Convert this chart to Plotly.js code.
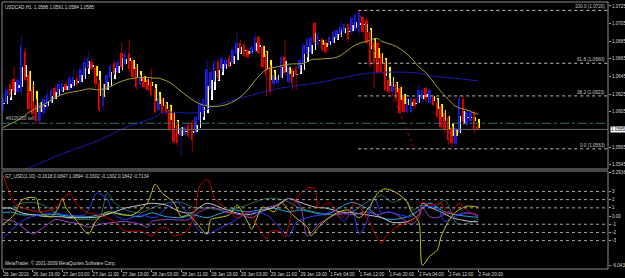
<!DOCTYPE html>
<html><head><meta charset="utf-8">
<script src="https://cdn.plot.ly/plotly-3.0.1.min.js"></script>
<style>html,body{margin:0;padding:0;background:#000;}#chart{width:625px;height:278px;}</style>
</head><body><div id="chart"></div>
<script>
const timeLabels=['26 Jan 2010','26 Jan 19:00','27 Jan 03:00','27 Jan 11:00','27 Jan 19:00','28 Jan 03:00','28 Jan 11:00','28 Jan 19:00','29 Jan 03:00','29 Jan 11:00','29 Jan 19:00','1 Feb 04:00','1 Feb 12:00','1 Feb 20:00','2 Feb 04:00','2 Feb 12:00','2 Feb 20:00'];
const timeTickIdx=[0,8,16,24,32,40,48,56,64,72,80,88,96,104,112,120,128];

const open=[1.0607,1.0616,1.0636,1.0642,1.0628,1.0628,1.0673,1.0647,1.0630,1.0613,
1.0594,1.0604,1.0610,1.0616,1.0632,1.0624,1.0628,1.0637,1.0630,1.0634,
1.0643,1.0639,1.0646,1.0656,1.0662,1.0655,1.0638,1.0611,1.0630,1.0643,
1.0660,1.0650,1.0672,1.0659,1.0672,1.0664,1.0656,1.0636,1.0644,1.0641,
1.0639,1.0630,1.0607,1.0619,1.0613,1.0607,1.0602,1.0590,1.0577,1.0579,
1.0590,1.0593,1.0581,1.0596,1.0602,1.0611,1.0630,1.0641,1.0662,1.0653,
1.0655,1.0666,1.0662,1.0670,1.0683,1.0681,1.0675,1.0670,1.0675,1.0690,
1.0679,1.0670,1.0656,1.0636,1.0638,1.0644,1.0667,1.0639,1.0653,1.0655,
1.0653,1.0660,1.0670,1.0673,1.0706,1.0681,1.0687,1.0684,1.0681,1.0684,
1.0689,1.0692,1.0696,1.0704,1.0696,1.0698,1.0695,1.0713,1.0709,1.0695,
1.0683,1.0683,1.0670,1.0660,1.0641,1.0628,1.0636,1.0632,1.0622,1.0605,
1.0605,1.0619,1.0615,1.0619,1.0632,1.0615,1.0622,1.0616,1.0611,1.0604,
1.0598,1.0587,1.0568,1.0581,1.0619,1.0590,1.0594,1.0605,1.0588];
const high=[1.0624,1.0634,1.0641,1.0656,1.0647,1.0691,1.0677,1.0653,1.0636,1.0619,
1.0621,1.0624,1.0630,1.0633,1.0636,1.0641,1.0641,1.0640,1.0647,1.0653,
1.0647,1.0658,1.0666,1.0675,1.0666,1.0658,1.0641,1.0636,1.0650,1.0660,
1.0664,1.0666,1.0684,1.0675,1.0687,1.0666,1.0659,1.0647,1.0648,1.0643,
1.0654,1.0632,1.0624,1.0622,1.0615,1.0611,1.0604,1.0594,1.0590,1.0591,
1.0593,1.0596,1.0602,1.0619,1.0622,1.0664,1.0655,1.0664,1.0664,1.0670,
1.0667,1.0670,1.0679,1.0695,1.0687,1.0683,1.0677,1.0681,1.0695,1.0692,
1.0681,1.0673,1.0658,1.0649,1.0647,1.0670,1.0687,1.0658,1.0655,1.0657,
1.0666,1.0683,1.0690,1.0692,1.0707,1.0695,1.0689,1.0687,1.0692,1.0698,
1.0700,1.0709,1.0706,1.0706,1.0715,1.0718,1.0720,1.0715,1.0711,1.0698,
1.0687,1.0685,1.0672,1.0664,1.0643,1.0641,1.0638,1.0634,1.0624,1.0623,
1.0621,1.0621,1.0636,1.0632,1.0633,1.0632,1.0624,1.0619,1.0613,1.0606,
1.0601,1.0589,1.0589,1.0624,1.0623,1.0607,1.0607,1.0607,1.0591];
const low=[1.0605,1.0613,1.0621,1.0626,1.0624,1.0625,1.0639,1.0605,1.0599,1.0591,
1.0591,1.0602,1.0607,1.0614,1.0619,1.0622,1.0625,1.0628,1.0628,1.0632,
1.0633,1.0636,1.0643,1.0654,1.0650,1.0632,1.0605,1.0607,1.0628,1.0641,
1.0647,1.0648,1.0654,1.0657,1.0650,1.0641,1.0630,1.0632,1.0631,1.0628,
1.0622,1.0602,1.0604,1.0602,1.0601,1.0582,1.0568,1.0566,1.0556,1.0577,
1.0575,1.0560,1.0579,1.0594,1.0599,1.0607,1.0628,1.0639,1.0641,1.0650,
1.0653,1.0654,1.0659,1.0660,1.0671,1.0666,1.0665,1.0667,1.0673,1.0670,
1.0653,1.0622,1.0624,1.0632,1.0634,1.0641,1.0647,1.0637,1.0630,1.0630,
1.0650,1.0658,1.0667,1.0670,1.0682,1.0679,1.0673,1.0671,1.0679,1.0682,
1.0687,1.0690,1.0693,1.0684,1.0693,1.0696,1.0692,1.0692,1.0681,1.0655,
1.0632,1.0647,1.0648,1.0628,1.0625,1.0624,1.0616,1.0602,1.0603,1.0603,
1.0603,1.0608,1.0613,1.0616,1.0616,1.0613,1.0611,1.0597,1.0586,1.0581,
1.0568,1.0564,1.0565,1.0579,1.0589,1.0588,1.0591,1.0581,1.0584];
const close=[1.0621,1.0630,1.0624,1.0629,1.0641,1.0680,1.0641,1.0608,1.0602,1.0594,
1.0615,1.0619,1.0624,1.0630,1.0622,1.0636,1.0638,1.0630,1.0643,1.0644,
1.0636,1.0653,1.0662,1.0666,1.0653,1.0636,1.0607,1.0632,1.0647,1.0657,
1.0649,1.0662,1.0656,1.0670,1.0653,1.0644,1.0633,1.0643,1.0633,1.0630,
1.0624,1.0605,1.0621,1.0604,1.0604,1.0585,1.0571,1.0570,1.0587,1.0588,
1.0577,1.0573,1.0599,1.0615,1.0619,1.0653,1.0650,1.0660,1.0643,1.0666,
1.0664,1.0656,1.0675,1.0683,1.0673,1.0668,1.0667,1.0679,1.0690,1.0672,
1.0656,1.0647,1.0628,1.0647,1.0644,1.0667,1.0649,1.0656,1.0638,1.0647,
1.0664,1.0681,1.0687,1.0689,1.0684,1.0692,1.0675,1.0673,1.0690,1.0695,
1.0698,1.0701,1.0704,1.0687,1.0711,1.0715,1.0717,1.0695,1.0683,1.0658,
1.0660,1.0649,1.0650,1.0630,1.0628,1.0639,1.0619,1.0604,1.0605,1.0621,
1.0619,1.0611,1.0630,1.0630,1.0619,1.0630,1.0613,1.0599,1.0588,1.0585,
1.0573,1.0570,1.0587,1.0619,1.0594,1.0605,1.0605,1.0585,1.0585];

const maFastX=[0,5,8,11,14,17,21,23,26,28,31,33,35,38,41,42,45,48,53,57,60,63,66,68,71,74,77,81,83,86,90,93,95,98,101,102,106,110,112,114,117,120,122,125,128];
const maFastY=[1.0587,1.0598,1.0607,1.0613,1.0621,1.0626,1.0629,1.0631,1.0630,1.0632,1.0638,1.0641,1.0643,1.0644,1.0643,1.0643,1.0638,1.0628,1.0614,1.0611,1.0613,1.0619,1.0630,1.0641,1.0653,1.0656,1.0659,1.0660,1.0664,1.0665,1.0667,1.0675,1.0681,1.0685,1.0688,1.0685,1.0679,1.0666,1.0656,1.0649,1.0633,1.0619,1.0611,1.0607,1.0602];
const maSlowX=[6,9,17,26,33,41,43,52,58,67,75,85,93,99,104,112,115,124,128];
const maSlowY=[1.0540,1.0545,1.0559,1.0573,1.0587,1.0599,1.0604,1.0604,1.0613,1.0624,1.0632,1.0638,1.0645,1.0649,1.0650,1.0649,1.0646,1.0642,1.0640];

const fibLevels=[1.0720,1.0660,1.0623,1.0563];
const fibLabels=['100.0 (1.0720)','61.8 (1.0660)','38.2 (1.0623)','0.0 (1.0563)'];
const priceTicks=[1.0725,1.0705,1.0685,1.0665,1.0645,1.0625,1.0605,1.0565,1.0545];
const oscTicks=[5.2938,3,2,1,0,-1,-2,-3,-6.043];
const oscTickText=['5.2938','3','2','1','0.00','-1','-2','-3','-6.043'];
const oscLevels=[3,2,1,-1,-2,-3];

const redX=[0,2,3,5,10,14,17,18,20,23,26,30,33,37,40,42,44,46,50,52,53,55,56,57,60,63,66,68,71,72,75,76,78,79,82,84,85,88,91,93,95,97,99,102,103,106,109,112,113,115,118,120,123,124,126,128];
const redY=[5.0,2.49,1.67,1.09,0.5,0.97,2.49,2.73,1.32,0.39,0.15,-0.67,-1.84,-1.84,-2.42,-1.6,-1.37,-2.42,-1.6,1.32,3.66,4.48,3.66,2.14,0.97,-0.2,0.5,-0.78,-2.77,-1.84,-1.95,-2.54,0.97,2.14,3.43,3.31,0.97,1.67,-0.2,0.5,1.67,0.5,-1.02,-3.35,-2.54,-1.37,-0.78,0.15,1.67,1.32,1.56,0.15,1.56,1.09,0.39,0.1842];
const yelX=[0,3,5,7,9,10,13,15,16,17,20,23,25,28,32,35,39,40,41,43,46,48,50,52,55,56,58,61,63,66,67,70,73,74,75,78,82,83,85,89,93,96,99,101,103,106,109,110,112,113,115,117,118,120,122,125,128];
const yelY=[-1.02,0.15,1.91,2.26,2.14,0.5,-0.08,1.09,2.14,0.97,-0.67,-2.19,-0.67,0.5,0.15,0.15,1.67,2.84,3.89,2.73,1.67,-0.08,0.15,-0.78,-2.19,-0.43,-0.2,0.15,1.32,-0.78,-1.6,1.09,0.5,1.09,1.67,0.15,-1.37,-2.42,-1.37,0.15,0.74,-0.2,1.32,2.84,3.31,2.84,1.67,0.5,-0.67,-6.0,-4.88,-4.17,-2.54,-0.67,0.5,1.2,1.0894];
const bluX=[0,2,5,7,10,14,17,22,24,25,26,28,30,33,37,41,44,47,50,53,55,59,62,65,67,71,75,77,79,83,86,89,92,94,96,98,100,102,104,107,110,113,117,119,121,123,126,128];
const bluY=[-2.77,-1.84,-0.67,-0.2,0.15,0.39,0.15,0.15,1.67,2.73,2.73,2.14,0.15,-0.43,0.15,-0.2,0.97,1.67,0.15,-1.84,-2.19,-1.37,-0.67,0.15,0.5,0.15,-1.6,-2.42,-0.78,-0.08,0.15,0.5,-0.67,0.97,-2.19,-0.67,2.14,0.39,0.5,0.15,-0.08,1.09,0.97,-0.67,-0.2,0.15,0.39,-0.1302];
const whtX=[0,2,5,8,12,15,19,23,26,30,33,37,40,44,48,51,53,55,59,62,66,69,73,77,80,84,87,91,94,98,102,105,109,112,113,115,118,121,123,126,128];
const whtY=[0.97,0.97,0.39,0.15,-0.08,-0.08,-0.2,-0.2,-0.08,0.5,0.97,1.32,1.56,1.32,0.5,0.39,1.09,1.56,0.97,0.5,0.15,0.5,1.09,2.14,1.67,1.09,0.97,0.5,0.39,0.15,-0.2,-0.78,-0.67,0.15,1.56,1.09,0.5,-0.2,-0.43,-0.67,-0.7134];
const cyaX=[0,2,5,8,12,15,19,23,26,30,33,37,40,44,48,51,55,59,62,66,69,73,77,80,84,87,91,94,98,102,105,109,113,115,119,122,126,128];
const cyaY=[0.39,0.5,0.15,0.15,0.15,0.15,-0.08,-0.08,0.15,0.39,0.15,-0.08,0.39,-0.08,-0.2,0.15,-0.2,0.39,0.74,0.5,0.74,0.97,0.5,0.74,0.39,0.15,1.09,1.67,0.97,-0.2,-0.43,-0.08,0.97,1.56,0.5,0.15,-0.08,-0.1618];
const purX=[0,3,7,8,11,14,17,21,23,26,30,33,37,39,40,44,50,53,56,60,64,67,71,75,77,80,82,85,87,91,94,98,101,104,107,110,112,113,115,117,120,122,125,128];
const purY=[-0.43,-0.67,-1.95,-2.19,-1.37,-0.43,-0.67,-1.02,-1.37,-1.02,-0.78,-0.67,-1.02,-1.37,-0.67,-0.43,-0.43,0.5,1.09,0.5,0.15,-0.2,0.97,1.56,2.14,1.32,-2.42,-1.02,-0.43,0.39,0.15,0.5,0.15,0.5,-0.08,-1.02,-0.2,0.97,-0.08,-0.2,0.5,0.15,0.39,0.0847];
const grnX=[0,2,5,8,11,14,17,22,26,28,30,33,37,40,44,48,51,55,59,64,71,76,80,89,94,98,102,105,108,110,113,116,119,120,122,124,126,128];
const grnY=[0.97,0.97,1.56,1.67,1.32,0.5,-0.2,-0.43,-0.2,2.84,1.67,0.74,0.39,0.97,1.56,1.67,1.09,0.97,0.74,1.09,2.14,1.91,0.97,0.15,0.5,1.67,2.49,1.67,2.14,0.74,1.32,0.97,1.91,1.32,-0.78,-1.02,-0.78,-0.3302];

const n=open.length;
const idx=[...Array(n).keys()];
const isUp=i=>close[i]>=open[i];
const bodyBase=idx.map(i=>Math.min(open[i],close[i]));
const bodyLen=idx.map(i=>Math.max(Math.abs(close[i]-open[i]),0.00005));
const bodyCol=idx.map(i=>isUp(i)?'#2020ff':'#ff0000');
function wicks(up){const xs=[],ys=[];idx.forEach(i=>{if(isUp(i)===up){xs.push(i,i,null);ys.push(low[i],high[i],null);}});return {xs,ys};}
const wu=wicks(true), wd=wicks(false);
// Heiken Ashi overlay derived from the OHLC arrays
const haC=[],haO=[];
idx.forEach(i=>{haC[i]=(open[i]+high[i]+low[i]+close[i])/4;haO[i]=i===0?(open[0]+close[0])/2:(haO[i-1]+haC[i-1])/2;});
const haBase=idx.map(i=>Math.min(haO[i],haC[i]));
const haLen=idx.map(i=>Math.max(Math.abs(haC[i]-haO[i]),0.00005));
const haCol=idx.map(i=>haC[i]>=haO[i]?'#ffffff':'#ffff00');

const traces=[
 {type:'scatter',mode:'lines',x:wu.xs,y:wu.ys,line:{color:'#10108a',width:1},xaxis:'x',yaxis:'y',hoverinfo:'skip'},
 {type:'scatter',mode:'lines',x:wd.xs,y:wd.ys,line:{color:'#9a0000',width:1},xaxis:'x',yaxis:'y',hoverinfo:'skip'},
 {type:'bar',x:idx,y:bodyLen,base:bodyBase,width:0.68,offset:-0.45,marker:{color:bodyCol,line:{width:0}},xaxis:'x',yaxis:'y'},
 {type:'bar',x:idx,y:haLen,base:haBase,width:0.48,offset:-0.02,marker:{color:haCol,line:{width:0}},xaxis:'x',yaxis:'y'},
 {type:'scatter',mode:'lines',x:maSlowX,y:maSlowY,line:{color:'#1c1cb0',width:1,shape:'spline'},xaxis:'x',yaxis:'y'},
 {type:'scatter',mode:'lines',x:maFastX,y:maFastY,line:{color:'#a8a028',width:1,shape:'spline'},xaxis:'x',yaxis:'y'}
];
const osc=[[grnX,grnY,'#2f6a5c'],[cyaX,cyaY,'#1ea8e0'],[whtX,whtY,'#c8c8c8'],[purX,purY,'#a040c8'],[bluX,bluY,'#2a3cff'],[yelX,yelY,'#c8c000'],[redX,redY,'#c80000']];
osc.forEach(s=>traces.push({type:'scatter',mode:'lines',x:s[0],y:s[1],line:{color:s[2],width:1,shape:'spline',smoothing:0.8},xaxis:'x',yaxis:'y2'}));

const XR=[-0.27,163];
const shapes=[];
fibLevels.forEach(v=>shapes.push({type:'line',xref:'x',yref:'y',x0:95.7,x1:XR[1],y0:v,y1:v,line:{color:'#bdbdbd',width:1,dash:'dot'}}));
shapes.push({type:'line',xref:'x',yref:'y',x0:95.7,y0:1.0720,x1:110.8,y1:1.0563,line:{color:'#c00000',width:1,dash:'dot'}});
shapes.push({type:'line',xref:'paper',yref:'y',x0:0,x1:1,y0:1.0592,y1:1.0592,line:{color:'#2f7070',width:1,dash:'dashdot'}});
shapes.push({type:'line',xref:'paper',yref:'y',x0:0,x1:1,y0:1.0585,y1:1.0585,line:{color:'#6a6a6a',width:1}});
oscLevels.forEach(v=>shapes.push({type:'line',xref:'paper',yref:'y2',x0:0,x1:1,y0:v,y1:v,line:{color:'#a8a8a8',width:1,dash:'dot'}}));
shapes.push({type:'rect',xref:'paper',yref:'paper',x0:0,x1:1,y0:0.3745,y1:1,line:{color:'#8c8c8c',width:1}});
shapes.push({type:'rect',xref:'paper',yref:'paper',x0:0,x1:1,y0:0,y1:0.367,line:{color:'#8c8c8c',width:1}});

const tf={family:'Liberation Sans, Arial, sans-serif',size:4.6,color:'#d8d8d8'};
const ann=[
 {xref:'paper',yref:'paper',x:0,y:1,xanchor:'left',yanchor:'top',xshift:1,yshift:-1,text:'USDCAD,H1  1.0588 1.0591 1.0584 1.0585',showarrow:false,font:tf},
 {xref:'paper',yref:'y',x:0,y:1.0592,xanchor:'left',yanchor:'bottom',xshift:2,yshift:0,text:'#9326250 sell',showarrow:false,font:{...tf,color:'#b0b0b0'}},
 {xref:'paper',yref:'y',x:1,y:1.0585,xanchor:'left',yanchor:'middle',xshift:2,text:'1.0585',showarrow:false,bgcolor:'#ffffff',borderpad:0,font:{...tf,color:'#000000'}},
 {xref:'paper',yref:'paper',x:0,y:0.367,xanchor:'left',yanchor:'top',xshift:1,yshift:-1,text:'G7_USD(1,10) -0.1618 0.0847 1.0894 -0.3302 -0.1302 0.1842 -0.7134',showarrow:false,font:tf},
 {xref:'paper',yref:'paper',x:0,y:0,xanchor:'left',yanchor:'bottom',xshift:1,yshift:1,text:'MetaTrader, © 2001-2009 MetaQuotes Software Corp.',showarrow:false,font:tf}
];
fibLevels.forEach((v,k)=>ann.push({xref:'paper',yref:'y',x:1,y:v,xanchor:'right',yanchor:'bottom',xshift:-1,yshift:-1,text:fibLabels[k],showarrow:false,font:{...tf,color:'#c8c8c8'}}));

const layout={
 width:625,height:278,paper_bgcolor:'#000000',plot_bgcolor:'#000000',
 margin:{l:2,r:17,t:2,b:9},showlegend:false,barmode:'overlay',bargap:0,
 font:tf,
 xaxis:{range:XR,anchor:'y2',showgrid:false,zeroline:false,showline:false,tickvals:timeTickIdx,ticktext:timeLabels,tickangle:0,ticks:'outside',ticklen:2,tickcolor:'#a0a0a0',ticklabelposition:'outside right',tickfont:tf,automargin:false,fixedrange:true},
 yaxis:{domain:[0.3745,1],range:[1.05401,1.07295],side:'right',anchor:'x',tickvals:priceTicks,tickformat:'.4f',ticks:'outside',ticklen:2,tickcolor:'#a0a0a0',showgrid:false,zeroline:false,showline:false,tickfont:tf,automargin:false},
 yaxis2:{domain:[0,0.367],range:[-6.46,5.49],side:'right',anchor:'x',tickvals:oscTicks,ticktext:oscTickText,ticks:'outside',ticklen:2,tickcolor:'#a0a0a0',showgrid:false,zeroline:false,showline:false,tickfont:tf,automargin:false},
 shapes:shapes,annotations:ann
};
Plotly.newPlot('chart',traces,layout,{staticPlot:true,displayModeBar:false});
</script></body></html>
